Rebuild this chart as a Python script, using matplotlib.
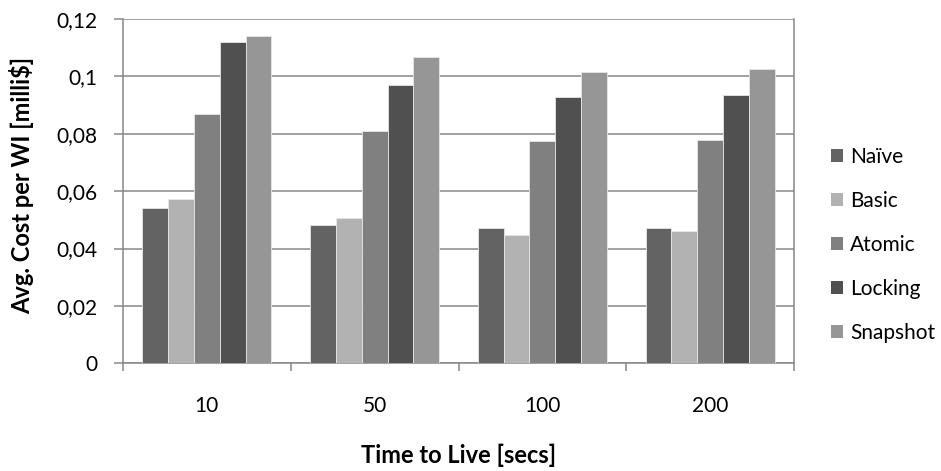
import matplotlib
matplotlib.use("Agg")
import matplotlib.pyplot as plt
import numpy as np
from matplotlib.patches import Patch
from matplotlib.ticker import FuncFormatter

categories = ["10", "50", "100", "200"]
naive = [0.0542, 0.0483, 0.0470, 0.0470]
basic = [0.0574, 0.0507, 0.0448, 0.0461]
atomic = [0.0869, 0.0810, 0.0774, 0.0778]
locking = [0.1121, 0.0970, 0.0929, 0.0936]
snapshot = [0.1141, 0.1066, 0.1017, 0.1026]

series_names = ["Naïve", "Basic", "Atomic", "Locking", "Snapshot"]
series_values = [naive, basic, atomic, locking, snapshot]
colors = ["#636363", "#b2b2b2", "#808080", "#505050", "#969696"]

plt.rcParams["font.family"] = ["Lato", "DejaVu Sans"]

W, H = 941, 471
fig = plt.figure(figsize=(W / 100, H / 100), dpi=100)
left, right, top, bottom = 123, 794, 19, 363.3
ax = fig.add_axes([left / W, (H - bottom) / H, (right - left) / W, (bottom - top) / H])

n = len(series_names)
group_w = 1 / 1.3
bar_w = group_w / n
x = np.arange(len(categories))
for i, (name, vals, c) in enumerate(zip(series_names, series_values, colors)):
    offs = -group_w / 2 + bar_w * (i + 0.5)
    ax.bar(x + offs, vals, width=bar_w, color=c, edgecolor="#e6e6e6",
           linewidth=0.6, label=name, zorder=3)

grid_c = "#888888"
ax.set_ylim(0, 0.12)
ax.set_xlim(-0.5, len(categories) - 0.5)
ax.set_yticks(np.arange(0, 0.1201, 0.02))
ax.yaxis.set_major_formatter(FuncFormatter(
    lambda v, p: "0" if abs(v) < 1e-9 else ("%g" % round(v, 3)).replace(".", ",")))
ax.set_xticks(x)
ax.set_xticklabels(categories)
ax.set_xticks(np.arange(-0.5, len(categories)), minor=True)
ax.tick_params(axis="x", which="major", length=0, pad=23.5, labelsize=15)
ax.tick_params(axis="x", which="minor", length=6, width=1.1, color=grid_c, direction="out")
ax.tick_params(axis="y", length=6.5, width=1.1, color=grid_c, labelsize=15, pad=12)
ax.grid(axis="y", color=grid_c, linewidth=1.1, zorder=0)
for s in ax.spines.values():
    s.set_color(grid_c)
    s.set_linewidth(1.1)
ax.spines["top"].set_visible(False)

ax.set_xlabel("Time to Live [secs]", fontsize=17, fontweight="bold")
ax.xaxis.set_label_coords(0.5, -0.232)
ax.set_ylabel("Avg. Cost per WI [milli$]", fontsize=17, fontweight="bold")
ax.yaxis.set_label_coords(-0.1326, 0.516)

handles = [Patch(facecolor=c, edgecolor="none") for c in colors]
fig.legend(handles, series_names, loc="center left",
           bbox_to_anchor=(831 / W, (H - 245) / H), frameon=False,
           borderpad=0, borderaxespad=0,
           fontsize=15, handlelength=0.58, handleheight=0.58,
           handletextpad=0.33, labelspacing=1.15)

fig.savefig("out.png", dpi=100)
